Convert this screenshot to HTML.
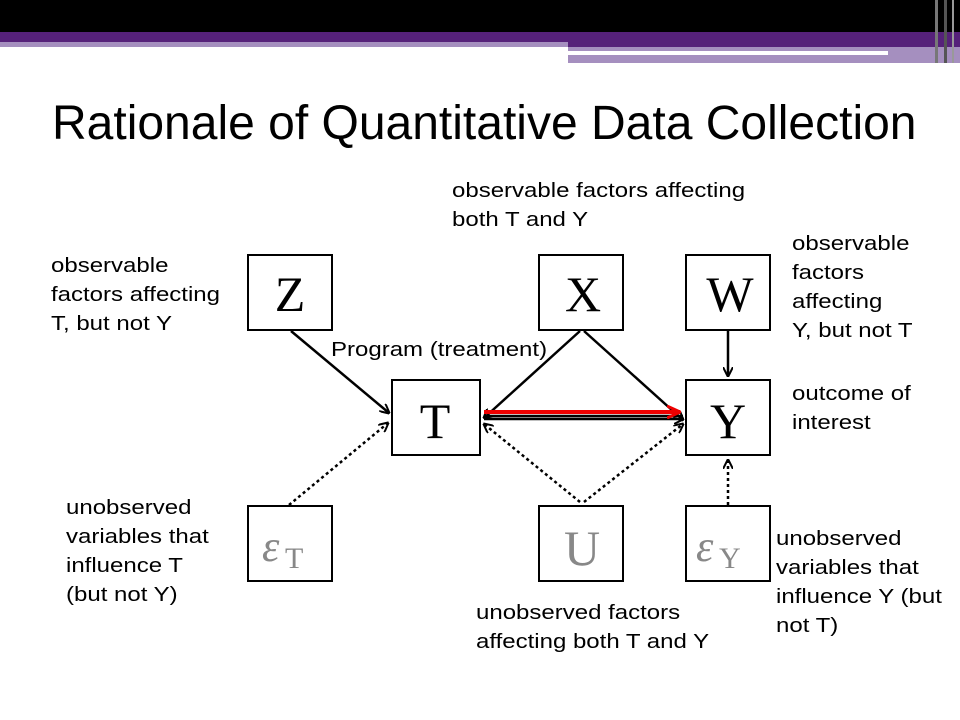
<!DOCTYPE html>
<html><head><style>
body{margin:0;width:960px;height:720px;background:#fff;position:relative;overflow:hidden;font-family:"Liberation Sans",sans-serif}
.a{position:absolute}
.t{position:absolute;font-size:20px;line-height:29px;color:#000;transform:scaleX(1.2);transform-origin:0 0;white-space:nowrap}
</style></head><body>
<div class="a" style="left:0;top:0;width:960px;height:32px;background:#000"></div>
<div class="a" style="left:0;top:32px;width:960px;height:10px;background:#56217a"></div>
<div class="a" style="left:0;top:42px;width:568px;height:5px;background:#a58fbf"></div>
<div class="a" style="left:568px;top:42px;width:392px;height:5px;background:#56217a"></div>
<div class="a" style="left:568px;top:47px;width:392px;height:16px;background:#a58fbf"></div>
<div class="a" style="left:568px;top:51px;width:320px;height:4px;background:#fff"></div>
<div class="a" style="left:935px;top:0;width:3px;height:63px;background:#777"></div>
<div class="a" style="left:944px;top:0;width:3px;height:63px;background:#555"></div>
<div class="a" style="left:952px;top:0;width:2px;height:63px;background:#999"></div>
<div class="a" style="left:52px;top:95px;font-size:48px;line-height:58px;white-space:nowrap">Rationale of Quantitative Data Collection</div>

<svg class="a" style="left:0;top:0" width="960" height="720">
<defs>
<marker id="m" markerWidth="10" markerHeight="10" refX="9" refY="5" orient="auto" markerUnits="userSpaceOnUse" viewBox="0 0 10 10"><path d="M0,0 L10,5 L0,10" fill="none" stroke="#000" stroke-width="2"/></marker>
<marker id="r" markerWidth="14" markerHeight="14" refX="13" refY="7" orient="auto" markerUnits="userSpaceOnUse" viewBox="0 0 14 14"><path d="M0,1 L13,7 L0,13" fill="none" stroke="#e00" stroke-width="3"/></marker>
</defs>
<g fill="#fff" stroke="#000" stroke-width="2">
<rect x="248" y="255" width="84" height="75"/><rect x="539" y="255" width="84" height="75"/><rect x="686" y="255" width="84" height="75"/>
<rect x="392" y="380" width="88" height="75"/><rect x="686" y="380" width="84" height="75"/>
<rect x="248" y="506" width="84" height="75"/><rect x="539" y="506" width="84" height="75"/><rect x="686" y="506" width="84" height="75"/>
</g>
<g stroke="#000" stroke-width="2.5" fill="none" marker-end="url(#m)">
<line x1="291" y1="331" x2="389" y2="413"/>
<line x1="580" y1="331" x2="484" y2="418"/>
<line x1="584" y1="331" x2="683" y2="420"/>
<line x1="728" y1="331" x2="728" y2="376"/>
<line x1="484" y1="419" x2="683" y2="419"/>
<line x1="484" y1="416" x2="683" y2="416" marker-end="none"/>
</g>
<g stroke="#000" stroke-width="2.5" fill="none" stroke-dasharray="3,3" marker-end="url(#m)">
<line x1="289" y1="505" x2="388" y2="423"/>
<line x1="580" y1="502" x2="484" y2="424"/>
<line x1="584" y1="502" x2="683" y2="424"/>
<line x1="728" y1="505" x2="728" y2="460"/>
</g>
<line x1="484" y1="412" x2="680" y2="412" stroke="#e00" stroke-width="4" marker-end="url(#r)"/>
<g font-family="Liberation Serif,serif" font-size="50" text-anchor="middle">
<text x="290" y="311">Z</text><text x="583" y="311">X</text><text x="730" y="311">W</text>
<text x="435" y="438">T</text><text x="728" y="438">Y</text>
<text x="582" y="565" fill="#888">U</text>
</g>
<g font-family="Liberation Serif,serif" fill="#888">
<text x="262" y="561" font-size="44" font-style="italic">ε</text><text x="285" y="568" font-size="30">T</text>
<text x="696" y="561" font-size="44" font-style="italic">ε</text><text x="719" y="568" font-size="30">Y</text>
</g>
</svg>

<div class="t" style="left:452px;top:177px">observable factors affecting<br>both T and Y</div>
<div class="t" style="left:51px;top:252px">observable<br>factors affecting<br>T, but not Y</div>
<div class="t" style="left:792px;top:230px">observable<br>factors<br>affecting<br>Y, but not T</div>
<div class="t" style="left:331px;top:336px">Program (treatment)</div>
<div class="t" style="left:792px;top:380px">outcome of<br>interest</div>
<div class="t" style="left:66px;top:494px">unobserved<br>variables that<br>influence T<br>(but not Y)</div>
<div class="t" style="left:776px;top:525px">unobserved<br>variables that<br>influence Y (but<br>not T)</div>
<div class="t" style="left:476px;top:599px">unobserved factors<br>affecting both T and Y</div>
</body></html>
